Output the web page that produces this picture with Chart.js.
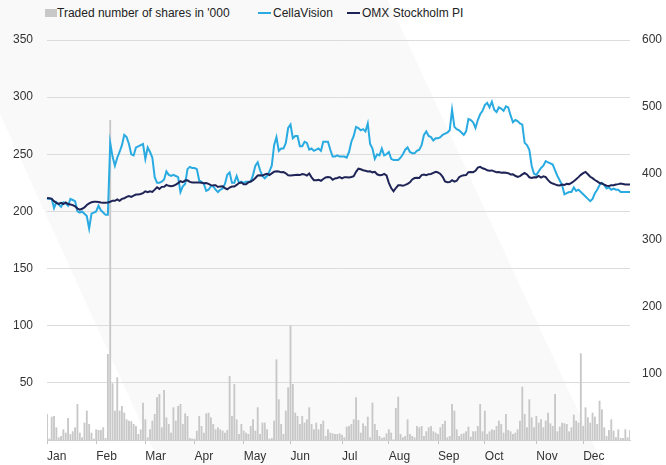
<!DOCTYPE html>
<html><head><meta charset="utf-8">
<script src="https://cdn.jsdelivr.net/npm/chart.js@4.4.0/dist/chart.umd.min.js"></script>
<style>
html,body{margin:0;padding:0;background:#fff;}
#wrap{position:relative;width:666px;height:465px;overflow:hidden;font-family:"Liberation Sans",Arial,sans-serif;}
#band{position:absolute;left:0;top:0;width:666px;height:465px;background:#f9f9f9;clip-path:polygon(0 0,388px 0,603px 465px,160px 465px,0 114px);}
.lg{position:absolute;top:6px;height:15px;font-size:12px;line-height:15px;color:#222;white-space:nowrap;}
.box{display:inline-block;width:12px;height:8px;background:#c8c8c8;vertical-align:middle;margin-top:-2px;}
.ln{display:inline-block;width:13px;height:2px;vertical-align:middle;margin-top:-2px;margin-right:2px;}
canvas{position:absolute;left:0;top:0;}
</style></head>
<body><div id="wrap"><div id="band"></div>
<div class="lg" style="left:45px"><span class="box"></span>Traded number of shares in '000</div>
<div class="lg" style="left:258px"><span class="ln" style="background:#29abe2"></span>CellaVision</div>
<div class="lg" style="left:347px"><span class="ln" style="background:#1f2456"></span>OMX Stockholm PI</div>
<canvas id="c" width="666" height="465"></canvas></div>
<script>
const monthNames = ['Jan','Feb','Mar','Apr','May','Jun','Jul','Aug','Sep','Oct','Nov','Dec'];
const tradingDaysPerMonth = [21,21,21,21,20,22,20,21,20,22,20,21];

const cellavision = [
 211,211,211,203,208,206,204,208,207,205,211,210,209,200,199,200,198,196,185,198,199,
 200,205,201,199,197,197,260,248,240,247,252,258,267,265,259,250,249,256,257,258,259,
 246,256,252,247,230,225,225,226,228,235,232,231,232,231,230,217,222,224,237,239,238,
 238,237,227,226,224,218,219,222,222,219,217,219,220,224,232,234,225,225,231,225,226,
 225,226,226,226,232,240,243,236,231,229,231,235,240,258,265,253,255,255,260,273,
 276,264,266,266,257,257,261,260,254,255,253,254,255,253,261,261,261,254,248,248,249,248,
 248,248,247,252,261,266,274,273,271,272,270,277,259,255,246,250,249,255,249,250,
 252,246,245,245,245,247,250,254,256,252,251,251,253,254,258,267,270,266,265,262,264,
 264,265,267,268,269,271,289,274,272,271,269,267,270,281,280,278,273,280,285,288,
 293,295,291,296,289,287,291,290,288,292,291,284,278,280,279,277,276,260,258,254,240,233,
 232,235,238,240,244,243,242,241,236,231,227,223,215,216,217,217,221,218,219,217,
 215,213,211,209,211,216,219,223,225,223,220,221,219,220,219,219,217,217,217,217,217
];

const omx = [
 211.8,211.5,211,209,207.5,206.5,207.5,206.5,207.8,206.5,206,205.5,204.5,202.5,201.5,202.3,203.5,205.6,207,208,208.4,
 208.4,208.2,207.8,207.5,207.7,207.8,208.5,209.4,209.3,210.5,209.3,211,211.5,212.7,213.5,212.7,213.9,214.8,214.9,215.3,216,
 217.6,216.9,217.7,217.1,219.1,221.2,219.7,221.5,221.6,223.2,222.4,222.1,222.4,223.5,224.8,226.4,225.6,227,227.2,225.8,225.3,
 225.3,225.3,225.3,225,224.6,224.8,224.1,223,222.8,222.9,221.4,221.9,222.1,220.3,219.4,220.9,221.8,221.8,223.2,224.8,225.3,
 223.8,223.8,225.4,226.2,227.3,229.3,231.4,231.6,231.4,232.3,232.9,231.9,233.3,234.7,235.2,234.9,234.2,234.5,233.4,231.7,
 231.4,231.7,231.9,232,231.8,232.7,232.4,231.4,233.2,229.8,227.3,227.3,227.6,226.8,228.4,229.7,230.2,229.8,227.7,228.9,229.3,230.1,
 229,230,230,229.7,230.2,230.8,234.6,237.4,236.9,236,235.6,234.9,235.1,234.2,234.6,232.5,231.7,231.8,232.8,231.5,
 225,220.4,217.6,220.5,222.9,222.9,222.4,223.2,224.1,225.5,228,229.2,229.5,229.3,231.8,232.2,231.7,232.6,232.8,233.7,234.6,
 234.1,232.8,230.3,226.3,225.5,225.8,227.3,226,226.8,230,231.1,231.7,231.8,234.3,234.5,234.3,235.5,238.3,239,237.7,
 237.2,236,235.7,235.9,235.1,234.3,234.5,233.8,234,233.8,233.5,232.4,232.5,231.2,230.2,230.9,232.4,233.6,232.4,229.9,229.3,229.9,
 229.8,231,229.6,230.7,230,227.4,225.3,224.4,223.7,222.8,222.7,223.5,223.2,224.1,223.9,225,226.4,228.1,230,232,
 233.5,234.6,232.5,230.3,229.1,227.5,226.3,224.9,224.4,223.4,222.5,222.3,222.9,222.9,223.5,223.9,224.4,224,223.5,223.5,223.5
];

const volume = [
 39,2,35,36,19,4,6,16,11,33,9,13,19,54,11,4,26,44,24,11,2,
 16,15,15,19,3,129,480,85,44,94,44,51,41,31,29,28,24,21,9,16,56,
 31,4,16,29,39,64,69,19,75,34,24,11,49,29,51,54,24,40,36,3,2,
 2,14,36,21,11,40,41,34,24,16,19,16,14,11,15,96,36,84,31,9,24,
 14,11,9,21,31,14,49,9,26,26,16,2,3,29,121,61,24,9,44,79,
 172,84,41,36,24,36,26,31,49,24,16,26,16,24,29,6,16,11,10,9,9,10,
 8,4,20,21,24,31,64,30,11,25,21,35,4,56,24,15,6,3,4,10,
 16,11,1,48,65,9,4,6,31,9,6,4,21,19,21,6,13,19,21,13,11,
 9,19,24,29,4,6,54,44,16,6,9,10,13,20,5,13,13,21,54,13,
 44,9,13,16,15,21,29,24,11,39,15,13,9,11,16,29,80,39,19,61,34,19,
 36,26,31,19,29,41,25,21,69,13,20,26,25,24,13,19,38,29,26,130,
 21,49,34,26,41,35,24,59,46,19,6,15,31,14,4,16,3,3,16,4,15
];

const leftTicks = [0,50,100,150,200,250,300,350];
const rightTicks = [0,100,200,300,400,500,600];

// categories: trading days, labelled by month
const labels = [];
const monthStarts = [];
tradingDaysPerMonth.forEach((n, m) => {
  monthStarts.push(labels.length);
  for (let d = 1; d <= n; d++) labels.push(monthNames[m] + ' ' + d);
});

const font = {family: '"Liberation Sans", Arial, sans-serif', size: 12};

new Chart(document.getElementById('c'), {
  type: 'bar',
  data: {
    labels: labels,
    datasets: [
      {type: 'line', label: 'OMX Stockholm PI', data: omx, yAxisID: 'y', borderColor: '#1f2456', borderWidth: 2, pointRadius: 0, tension: 0, order: 1},
      {type: 'line', label: 'CellaVision', data: cellavision, yAxisID: 'y', borderColor: '#29abe2', borderWidth: 2, pointRadius: 0, tension: 0, order: 2},
      {type: 'bar', label: "Traded number of shares in '000", data: volume, yAxisID: 'y1', backgroundColor: '#c8c8c8', barPercentage: 0.8, categoryPercentage: 1, order: 3}
    ]
  },
  options: {
    responsive: false,
    animation: false,
    layout: {padding: {top: 40, left: 0, right: 0, bottom: 0}},
    plugins: {legend: {display: false}, tooltip: {enabled: false}},
    scales: {
      x: {
        offset: false,
        grid: {offset: false, drawOnChartArea: false, drawTicks: true, tickLength: 4, color: '#c4c4c4'},
        border: {display: true, color: '#cfcfcf'},
        afterBuildTicks: s => { s.ticks = monthStarts.map(v => ({value: v})); },
        afterFit: s => { s.height = 25; },
        ticks: {autoSkip: false, maxRotation: 0, align: 'start', padding: 5, font: font, color: '#333',
          callback: (v, i) => monthNames[i]}
      },
      y: {
        position: 'left', min: 0, max: 350,
        afterBuildTicks: s => { s.ticks = leftTicks.map(v => ({value: v})); },
        afterFit: s => { s.width = 47; },
        grid: {drawTicks: false, color: '#dcdcdc', lineWidth: 1},
        border: {display: false},
        ticks: {padding: 14, font: font, color: '#333', callback: v => v === 0 ? '' : v}
      },
      y1: {
        position: 'right', min: 0, max: 600,
        afterBuildTicks: s => { s.ticks = rightTicks.map(v => ({value: v})); },
        afterFit: s => { s.width = 36; },
        grid: {display: false, drawTicks: false},
        border: {display: false},
        ticks: {padding: 12, font: font, color: '#333', callback: v => v === 0 ? '' : v}
      }
    }
  }
});
</script></body></html>
